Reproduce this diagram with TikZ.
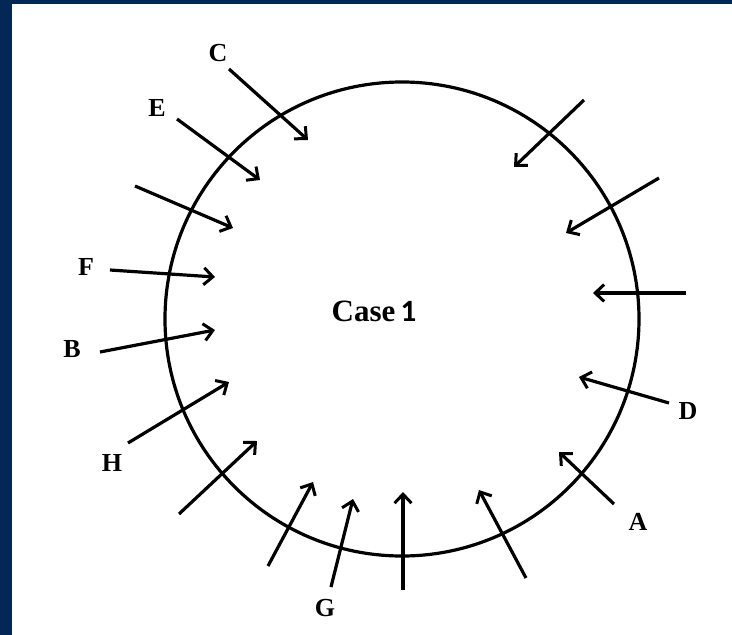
\documentclass[tikz,border=0pt]{standalone}
\usepackage{fontspec}
\setmainfont{Liberation Serif}
\newfontfamily\onefont{Carlito}
\usetikzlibrary{arrows.meta}
\definecolor{navy}{RGB}{3,40,86}
\tikzset{
  x=1pt, y=-1pt,
  flow/.style={line width=3.2pt, -{Straight Barb[length=9pt,width=17pt,line width=3pt]}},
  rim/.style={line width=3.2pt},
  lbl/.style={font=\bfseries\fontsize{26}{28}\selectfont, anchor=base, inner sep=0pt},
}
\begin{document}
\begin{tikzpicture}
\useasboundingbox (0,0) rectangle (732,635);
\fill[white] (0,0) rectangle (732,635);
\fill[navy] (0,0) rectangle (12,635);
\fill[navy] (0,0) rectangle (732,4);

\node[draw, circle, rim, minimum size=474pt, inner sep=0pt] (ring) at (402,319) {};

\node[anchor=base, inner sep=0pt] (case) at (374,321)
  {\bfseries\fontsize{31}{33}\selectfont Case\,{\onefont 1}};

% labels
\node[lbl] (lC) at (218,61) {C};
\node[lbl] (lE) at (157,116) {E};
\node[lbl] (lF) at (86,275) {F};
\node[lbl] (lB) at (72,357) {B};
\node[lbl] (lH) at (112,471) {H};
\node[lbl] (lG) at (325,616) {G};
\node[lbl] (lA) at (638,530) {A};
\node[lbl] (lD) at (688,419) {D};

% arrow ends
\coordinate (s1) at (229,69);  \coordinate (t1) at (308,140);
\coordinate (s2) at (177,119); \coordinate (t2) at (260,180);
\coordinate (s3) at (135,186); \coordinate (t3) at (233,228);
\coordinate (s4) at (110,270); \coordinate (t4) at (215,277);
\coordinate (s5) at (100,352); \coordinate (t5) at (215,330);
\coordinate (s6) at (128,443); \coordinate (t6) at (229,382);
\coordinate (s7) at (179,514); \coordinate (t7) at (257,441);
\coordinate (s8) at (268,566); \coordinate (t8) at (313,482);
\coordinate (s9) at (331,587); \coordinate (t9) at (353,499);
\coordinate (s10) at (403,590); \coordinate (t10) at (403,492);
\coordinate (s11) at (526,578); \coordinate (t11) at (479,490);
\coordinate (s12) at (614,504); \coordinate (t12) at (559,452);
\coordinate (s13) at (669,403); \coordinate (t13) at (579,377);
\coordinate (s14) at (686,293); \coordinate (t14) at (593,293);
\coordinate (s15) at (659,178); \coordinate (t15) at (566,233);
\coordinate (s16) at (584,100); \coordinate (t16) at (514,167);

\foreach \i in {1,...,16} \draw[flow] (s\i) -- (t\i);
\end{tikzpicture}
\end{document}
